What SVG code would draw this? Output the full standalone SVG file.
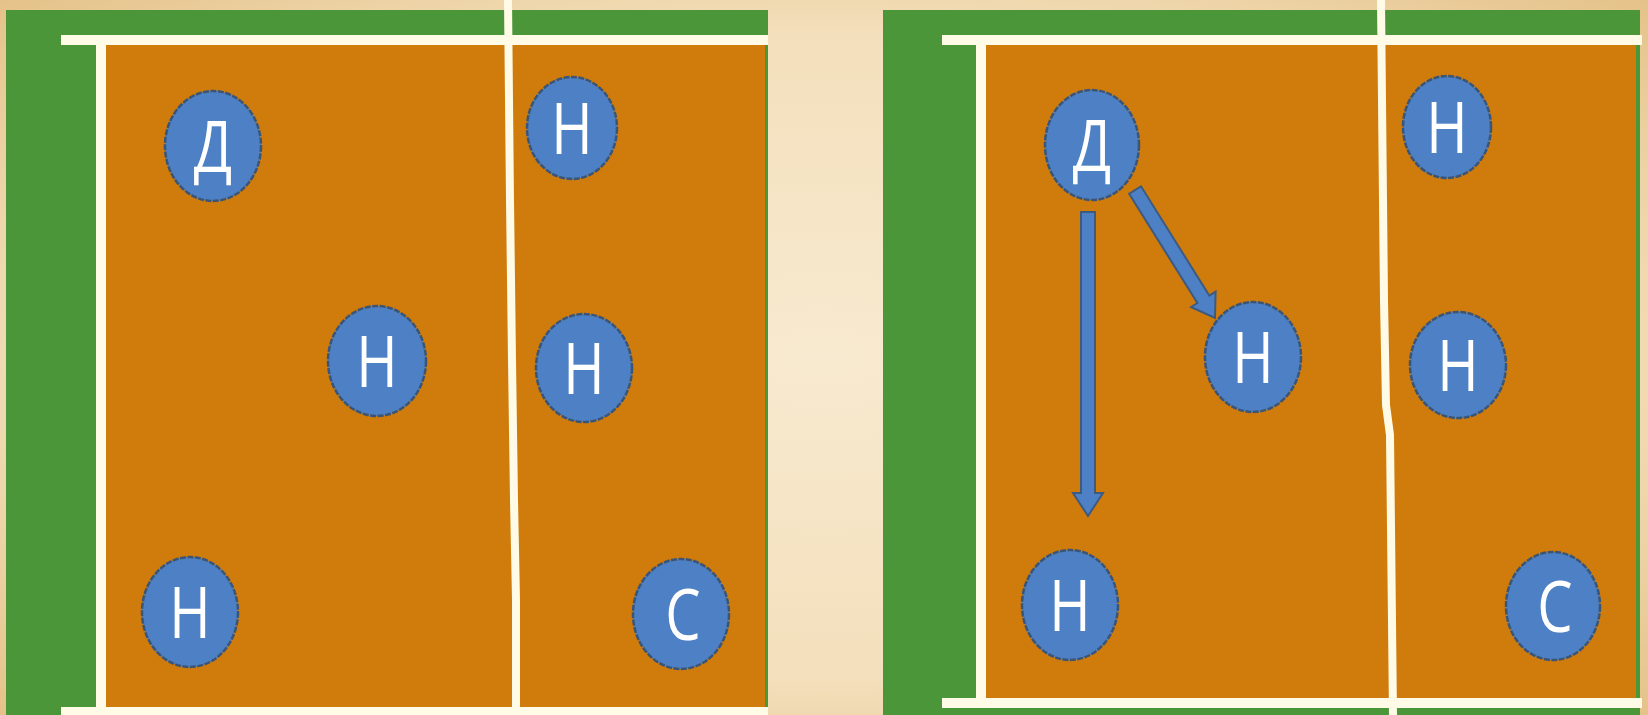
<svg xmlns="http://www.w3.org/2000/svg" width="1648" height="715" viewBox="0 0 1648 715">
<defs>
<radialGradient id="bg" cx="0.5" cy="0.5" r="0.75">
<stop offset="0" stop-color="#f8ead0"/>
<stop offset="0.6" stop-color="#f3dfbb"/>
<stop offset="1" stop-color="#e2bd80"/>
</radialGradient>
<style>
.green{fill:#4c963a}
.court{fill:#d07c0c}
.line{fill:none;stroke:#fffbe6;stroke-width:10}
.net{fill:none;stroke:#fffbe6;stroke-width:8}
.player ellipse{fill:#4d80c4;stroke:#3b5577;stroke-width:2.5;stroke-dasharray:6 1.5}
.player text{font-family:"Open Sans","Noto Sans",sans-serif;font-size:72px;fill:#ffffff;text-anchor:middle}
.arrow{fill:#4d80c4;stroke:#3e5a7e;stroke-width:2}
</style>
</defs>
<rect width="1648" height="715" fill="url(#bg)"/>

<g id="court-left">
<rect class="green" x="6" y="10" width="762" height="705"/>
<rect class="court" x="106" y="45" width="659" height="662"/>
<polyline class="line" points="61,40 768,40"/>
<polyline class="line" points="101,40 101,715"/>
<polyline class="line" points="61,712 768,712"/>
<polyline class="net" points="508,0 510,200 512,360 514,500 516,600 516,715"/>
</g>

<g id="court-right">
<rect class="green" x="883" y="10" width="757" height="705"/>
<rect class="court" x="986" y="45" width="650" height="653"/>
<polyline class="line" points="942,40 1642,40"/>
<polyline class="line" points="981,40 981,703"/>
<polyline class="line" points="942,703 1642,703"/>
<polyline class="net" points="1381,0 1384,300 1386,405 1390,435 1393,715"/>
</g>

<g id="connectors">
<polygon class="arrow" points="1081,212 1095,212 1095,493 1103,493 1088,516 1073,493 1081,493"/>
<polygon class="arrow" points="1129.1,193.7 1197.4,303 1191,307 1215,318 1215.6,291.6 1209.3,295.6 1141,186.3"/>
</g>

<g id="L-D" class="player"><ellipse cx="213" cy="146" rx="48" ry="55"/><text transform="matrix(0.78 0 0 1 213 172)">Д</text></g>
<g id="L-N1" class="player"><ellipse cx="572" cy="128" rx="45" ry="51"/><text transform="matrix(0.78 0 0 1 572 154)">Н</text></g>
<g id="L-N2" class="player"><ellipse cx="377" cy="361" rx="49" ry="55"/><text transform="matrix(0.78 0 0 1 377 387)">Н</text></g>
<g id="L-N3" class="player"><ellipse cx="584" cy="368" rx="48" ry="54"/><text transform="matrix(0.78 0 0 1 584 394)">Н</text></g>
<g id="L-N4" class="player"><ellipse cx="190" cy="612" rx="48" ry="55"/><text transform="matrix(0.78 0 0 1 190 638)">Н</text></g>
<g id="L-S" class="player"><ellipse cx="681" cy="614" rx="48" ry="55"/><text transform="matrix(0.78 0 0 1 683 640)">С</text></g>

<g id="R-D" class="player"><ellipse cx="1092" cy="145" rx="47" ry="55"/><text transform="matrix(0.78 0 0 1 1092 171)">Д</text></g>
<g id="R-N1" class="player"><ellipse cx="1447" cy="127" rx="44" ry="51"/><text transform="matrix(0.78 0 0 1 1447 153)">Н</text></g>
<g id="R-N2" class="player"><ellipse cx="1253" cy="357" rx="48" ry="55"/><text transform="matrix(0.78 0 0 1 1253 383)">Н</text></g>
<g id="R-N3" class="player"><ellipse cx="1458" cy="365" rx="48" ry="53"/><text transform="matrix(0.78 0 0 1 1458 391)">Н</text></g>
<g id="R-N4" class="player"><ellipse cx="1070" cy="605" rx="48" ry="55"/><text transform="matrix(0.78 0 0 1 1070 631)">Н</text></g>
<g id="R-S" class="player"><ellipse cx="1553" cy="606" rx="47" ry="54"/><text transform="matrix(0.78 0 0 1 1555 632)">С</text></g>
</svg>
